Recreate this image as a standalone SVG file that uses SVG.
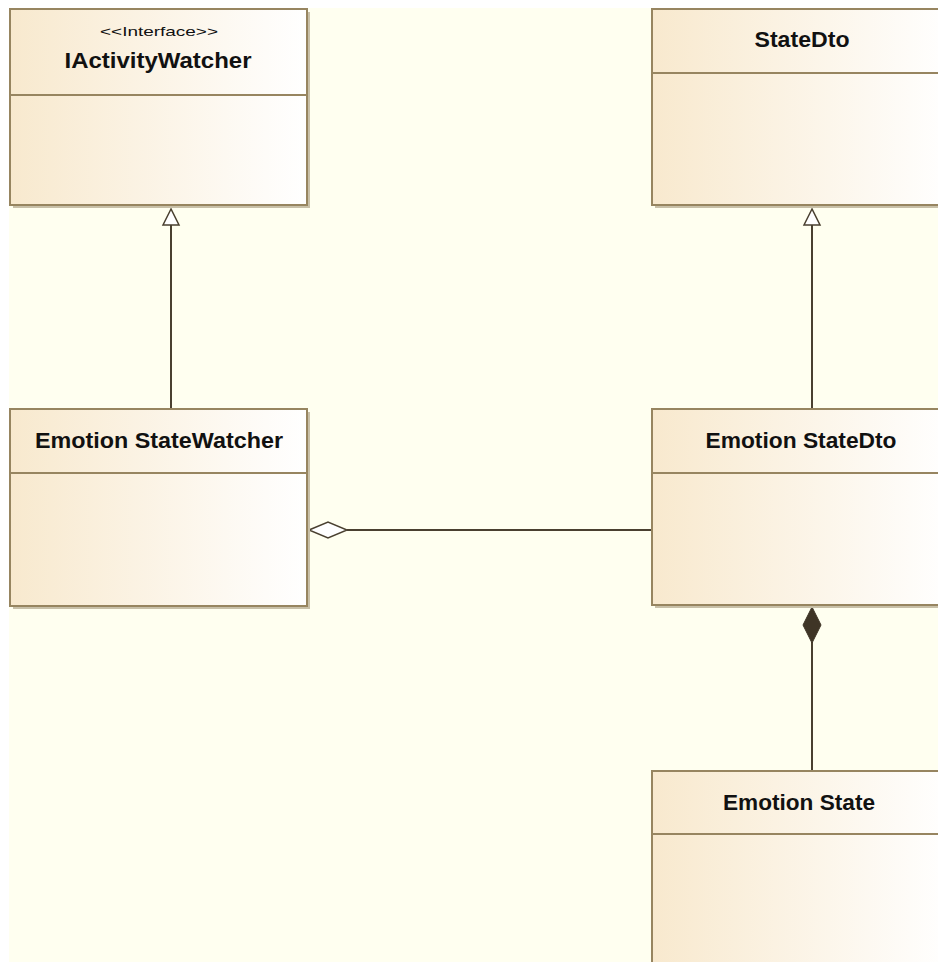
<svg xmlns="http://www.w3.org/2000/svg" width="938" height="962" viewBox="0 0 938 962">
<defs>
<linearGradient id="fillg" x1="0" y1="0" x2="1" y2="0">
<stop offset="0" stop-color="#F8E9CE"/>
<stop offset="1" stop-color="#FFFFFF"/>
</linearGradient>
<style>
.box{fill:url(#fillg);stroke:#978560;stroke-width:2}
.shadow{fill:#C8C0A8}
.div{stroke:#978560;stroke-width:2}
.name{font-family:"Liberation Sans",Arial,sans-serif;font-weight:bold;font-size:22px;fill:#111;text-anchor:middle}
.stereo{font-family:"Liberation Sans",Arial,sans-serif;font-size:13px;fill:#111;text-anchor:middle}
.conn{stroke:#4A4030;stroke-width:2;fill:none}
</style>
</defs>
<rect x="0" y="0" width="938" height="962" fill="#FFFFFF"/>
<rect x="9" y="8" width="929" height="954" fill="#FFFFF0"/>

<g id="connectors">
<line class="conn" x1="171" y1="224" x2="171" y2="409"/>
<polygon points="171,209 163,225 179,225" fill="#FFFFFF" stroke="#4A4030" stroke-width="1.5"/>
<line class="conn" x1="812" y1="224" x2="812" y2="409"/>
<polygon points="812,209 804,225 820,225" fill="#FFFFFF" stroke="#4A4030" stroke-width="1.5"/>
<line class="conn" x1="347" y1="530" x2="652" y2="530"/>
<polygon points="309,530 328,522 347,530 328,538" fill="#FFFFFF" stroke="#4A4030" stroke-width="1.5"/>
<line class="conn" x1="812" y1="642" x2="812" y2="771"/>
<polygon points="812,607 821,625 812,643 803,625" fill="#3F3526" stroke="#3F3526" stroke-width="1"/>
</g>

<g id="IActivityWatcher">
<rect class="shadow" x="13" y="12" width="297" height="196"/>
<rect class="box" x="10" y="9" width="297" height="196"/>
<line class="div" x1="10" y1="95" x2="307" y2="95"/>
<text class="stereo" x="159" y="36" textLength="118" lengthAdjust="spacingAndGlyphs">&lt;&lt;Interface&gt;&gt;</text>
<text class="name" x="158" y="68" textLength="187" lengthAdjust="spacingAndGlyphs">IActivityWatcher</text>
</g>

<g id="StateDto">
<rect class="shadow" x="655" y="12" width="300" height="196"/>
<rect class="box" x="652" y="9" width="300" height="196"/>
<line class="div" x1="652" y1="73" x2="952" y2="73"/>
<text class="name" x="802" y="47" textLength="95" lengthAdjust="spacingAndGlyphs">StateDto</text>
</g>

<g id="EmotionStateWatcher">
<rect class="shadow" x="13" y="412" width="297" height="197"/>
<rect class="box" x="10" y="409" width="297" height="197"/>
<line class="div" x1="10" y1="473" x2="307" y2="473"/>
<text class="name" x="159" y="448" textLength="248" lengthAdjust="spacingAndGlyphs">Emotion StateWatcher</text>
</g>

<g id="EmotionStateDto">
<rect class="shadow" x="655" y="412" width="300" height="196"/>
<rect class="box" x="652" y="409" width="300" height="196"/>
<line class="div" x1="652" y1="473" x2="952" y2="473"/>
<text class="name" x="801" y="448" textLength="191" lengthAdjust="spacingAndGlyphs">Emotion StateDto</text>
</g>

<g id="EmotionState">
<rect class="shadow" x="655" y="774" width="300" height="200"/>
<rect class="box" x="652" y="771" width="300" height="200"/>
<line class="div" x1="652" y1="834" x2="952" y2="834"/>
<text class="name" x="799" y="810" textLength="152" lengthAdjust="spacingAndGlyphs">Emotion State</text>
</g>
</svg>
